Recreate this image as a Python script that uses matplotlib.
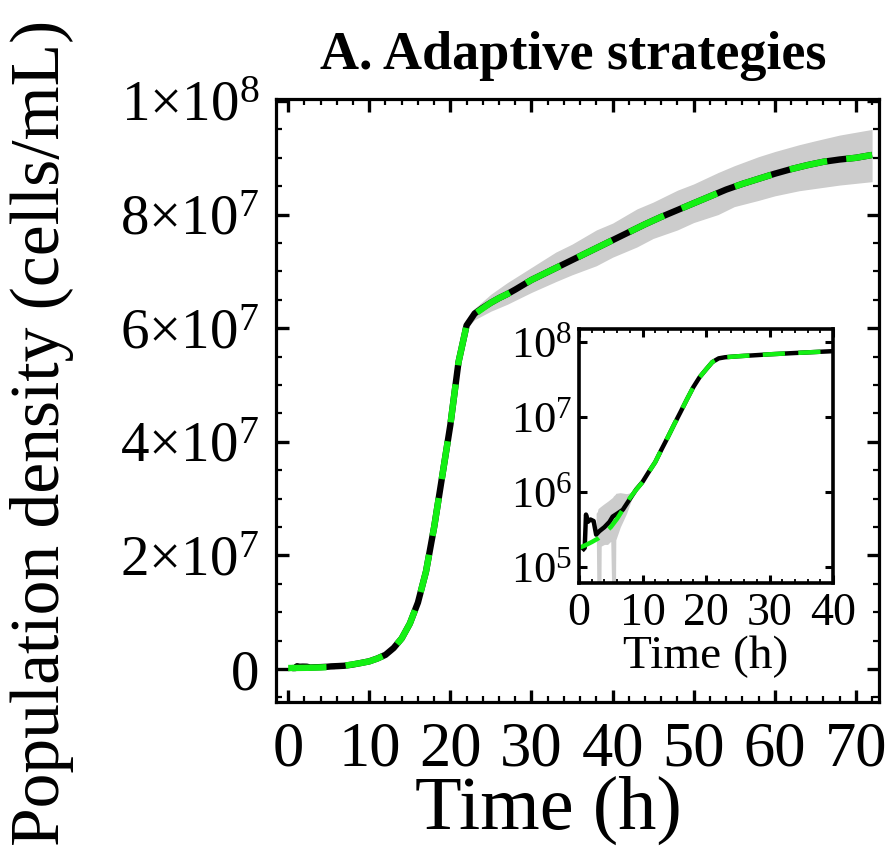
import matplotlib
matplotlib.use('Agg')
import matplotlib.pyplot as plt
from matplotlib.ticker import FixedLocator, MultipleLocator, LogLocator, NullFormatter, FixedFormatter

plt.rcParams['font.family'] = ['Liberation Serif', 'DejaVu Serif']
plt.rcParams['mathtext.fontset'] = 'custom'
plt.rcParams['mathtext.rm'] = 'Liberation Serif'
plt.rcParams['mathtext.it'] = 'Liberation Serif:italic'
plt.rcParams['mathtext.bf'] = 'Liberation Serif:bold'

# ---------------- data ----------------
title = "A. Adaptive strategies"
xlabel = "Time (h)"
ylabel = "Population density (cells/mL)"

model_t = [0, 1, 2, 3, 4, 5, 6, 7, 8, 9, 10, 11, 12, 13, 14, 15, 16, 17, 18, 19, 20,
           21, 22, 23, 24, 25, 26, 27, 28, 30, 32, 34, 36, 38, 40, 42, 44, 46, 48, 50,
           52, 54, 56, 58, 60, 62, 64, 66, 68, 70, 72]
model_n = [1.8e5, 1.95e5, 2.15e5, 2.4e5, 2.85e5, 3.4e5, 4.4e5, 6.0e5, 8.3e5, 1.07e6,
           1.35e6, 1.85e6, 2.5e6, 3.7e6, 5.4e6, 8.0e6, 1.17e7, 1.72e7, 2.5e7, 3.4e7,
           4.3e7, 5.4e7, 6.05e7, 6.25e7, 6.35e7, 6.45e7, 6.53e7, 6.6e7, 6.68e7, 6.85e7,
           6.99e7, 7.13e7, 7.27e7, 7.41e7, 7.55e7, 7.69e7, 7.83e7, 7.96e7, 8.08e7, 8.2e7,
           8.32e7, 8.44e7, 8.54e7, 8.63e7, 8.72e7, 8.8e7, 8.87e7, 8.93e7, 8.97e7, 9.0e7,
           9.05e7]

data_t = [0.5, 0.9, 1.1, 1.4, 1.8, 2.3, 2.7, 3.2, 4.0, 4.8, 5.3, 6.1, 6.9, 7.9,
          9, 10, 11, 12, 13, 14, 15, 16, 17, 18, 19, 20, 21, 22, 23, 24, 25, 26, 27, 28,
          30, 32, 34, 36, 38, 40, 42, 44, 46, 48, 50, 52, 54, 56, 58, 60, 62, 64, 66,
          68, 70, 72]
data_n = [1.65e5, 1.8e5, 5.0e5, 4.0e5, 4.3e5, 4.1e5, 2.7e5, 3.0e5, 3.4e5, 4.0e5,
          4.7e5, 5.2e5, 5.8e5, 7.8e5,
          1.08e6, 1.36e6, 1.86e6, 2.5e6, 3.7e6, 5.4e6, 8.0e6, 1.17e7, 1.72e7, 2.5e7,
          3.4e7, 4.3e7, 5.4e7, 6.05e7, 6.26e7, 6.36e7, 6.45e7, 6.53e7, 6.6e7, 6.68e7,
          6.85e7, 6.99e7, 7.13e7, 7.27e7, 7.41e7, 7.55e7, 7.69e7, 7.83e7, 7.96e7,
          8.08e7, 8.2e7, 8.32e7, 8.44e7, 8.54e7, 8.63e7, 8.72e7, 8.8e7, 8.87e7,
          8.93e7, 8.97e7, 9.0e7, 9.05e7]

# spread of replicate data (early, noisy part)
band1_t = [2.7, 2.9, 3.0, 3.4, 3.5, 4.0, 4.5, 5.0, 5.3, 5.4, 5.7, 5.8, 6.5, 7.5, 8.5]
band1_lo = [4.0e5, 1e4, 1e4, 1e4, 1.9e5, 2.0e5, 2.0e5, 2.2e5, 1e4, 1e4, 1e4, 2.3e5,
            3.4e5, 5.2e5, 9.0e5]
band1_hi = [5.2e5, 5.5e5, 6.0e5, 6.4e5, 6.5e5, 7.0e5, 7.5e5, 8.1e5, 8.5e5, 8.8e5,
            9.3e5, 9.6e5, 9.8e5, 9.5e5, 1.0e6]
# spread of replicate data (late part)
band2_t = [22, 23, 25, 27, 30, 33, 35, 38, 40, 43, 45, 48, 50, 53, 55, 58, 60, 63,
           65, 68, 70, 72]
band2_lo = [6.0e7, 6.15e7, 6.3e7, 6.42e7, 6.63e7, 6.82e7, 6.94e7, 7.1e7, 7.25e7,
            7.43e7, 7.58e7, 7.73e7, 7.86e7, 8.0e7, 8.14e7, 8.25e7, 8.33e7, 8.42e7,
            8.46e7, 8.52e7, 8.55e7, 8.58e7]
band2_hi = [6.1e7, 6.35e7, 6.6e7, 6.8e7, 7.07e7, 7.34e7, 7.48e7, 7.73e7, 7.85e7,
            8.1e7, 8.22e7, 8.43e7, 8.54e7, 8.74e7, 8.86e7, 9.02e7, 9.11e7, 9.23e7,
            9.3e7, 9.4e7, 9.45e7, 9.5e7]

main_xticks = [0, 10, 20, 30, 40, 50, 60, 70]
main_yticks = [0, 2e7, 4e7, 6e7, 8e7, 1e8]
main_yticklabels = ['0', r'$2{\times}10^{7}$', r'$4{\times}10^{7}$', r'$6{\times}10^{7}$',
                    r'$8{\times}10^{7}$', r'$1{\times}10^{8}$']
inset_xticks = [0, 10, 20, 30, 40]
inset_yticks = [1e5, 1e6, 1e7, 1e8]
inset_yticklabels = [r'$10^{5}$', r'$10^{6}$', r'$10^{7}$', r'$10^{8}$']

# ---------------- styling ----------------
W, H = 890, 846
fig = plt.figure(figsize=(W / 100, H / 100), dpi=100)

GREEN = '#14f014'
GRAY = '#cccccc'


def px_axes(l, t, r, b):
    return fig.add_axes([l / W, 1 - b / H, (r - l) / W, (b - t) / H])


ax = px_axes(276, 99, 879, 702)
ax.fill_between(band1_t, band1_lo, band1_hi, color=GRAY, lw=0)
ax.fill_between(band2_t, band2_lo, band2_hi, color=GRAY, lw=0)
ax.plot(data_t, data_n, color='black', lw=4.6, solid_capstyle='butt')
ax.plot(model_t, model_n, color=GREEN, lw=4.6, dashes=(6, 3))
ax.set_xlim(-1.5, 72.85)
ax.set_ylim(-5.8e6, 1.0035e8)
ax.xaxis.set_major_locator(FixedLocator(main_xticks))
ax.xaxis.set_minor_locator(MultipleLocator(2))
ax.yaxis.set_major_locator(FixedLocator(main_yticks))
ax.yaxis.set_major_formatter(FixedFormatter(main_yticklabels))
ax.yaxis.set_minor_locator(MultipleLocator(5e6))
ax.tick_params(which='both', direction='in', top=True, right=True)
ax.tick_params(which='major', length=9, width=2.4)
ax.tick_params(which='minor', length=4.5, width=1.6)
ax.tick_params(axis='x', which='major', pad=14, labelsize=45)
ax.tick_params(axis='y', which='major', pad=12, labelsize=41)
for s in ax.spines.values():
    s.set_linewidth(2.3)

fig.text(573 / W, 1 - 56 / H, title, ha='center', va='center', fontsize=39,
         fontweight='bold')
fig.text(548 / W, 1 - 810 / H, xlabel, ha='center', va='center', fontsize=55)
fig.text(42 / W, 1 - 433 / H, ylabel, ha='center', va='center', fontsize=50,
         rotation=90)

# inset
ins = px_axes(579, 329, 833, 583)
ins.fill_between(band1_t, band1_lo, band1_hi, color=GRAY, lw=0)
ins.fill_between(band2_t, band2_lo, band2_hi, color=GRAY, lw=0)
ins.plot(data_t, data_n, color='black', lw=3.2, solid_capstyle='butt')
ins.plot(model_t, model_n, color=GREEN, lw=3.2, dashes=(5, 3))
ins.set_yscale('log')
ins.set_xlim(0, 40)
ins.set_ylim(6.12e4, 1.49e8)
ins.xaxis.set_major_locator(FixedLocator(inset_xticks))
ins.xaxis.set_minor_locator(MultipleLocator(2))
ins.yaxis.set_major_locator(FixedLocator(inset_yticks))
ins.yaxis.set_major_formatter(FixedFormatter(inset_yticklabels))
ins.yaxis.set_minor_locator(LogLocator(base=10, subs=range(2, 10)))
ins.yaxis.set_minor_formatter(NullFormatter())
ins.tick_params(which='both', direction='in', top=True, right=True)
ins.tick_params(which='major', length=6, width=2.2)
ins.tick_params(which='minor', length=3, width=1.3)
ins.tick_params(axis='x', which='major', pad=7, labelsize=33)
ins.tick_params(axis='y', which='major', pad=5, labelsize=32)
for s in ins.spines.values():
    s.set_linewidth(2.6)
ins.set_xlabel(xlabel, fontsize=34, labelpad=0)

fig.savefig('out.png', dpi=100)
